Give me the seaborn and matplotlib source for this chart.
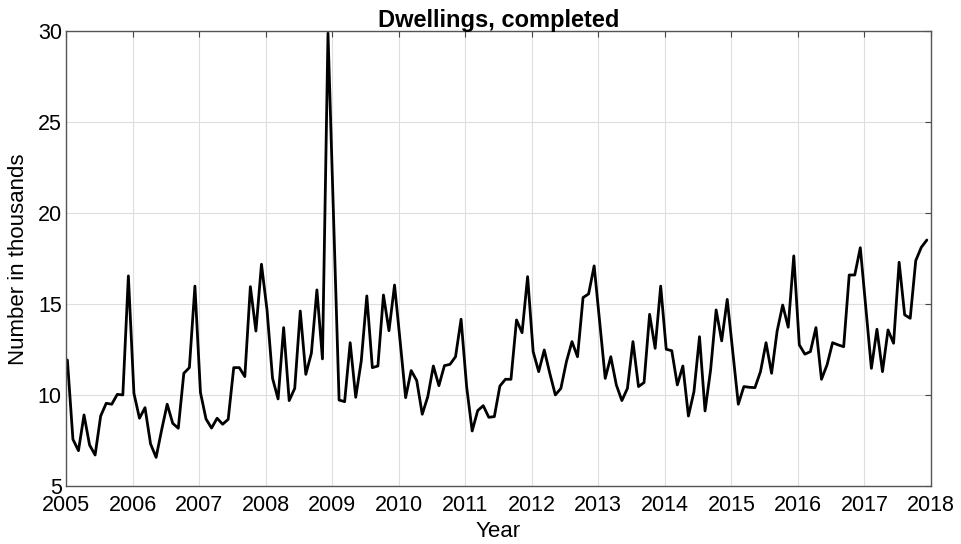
import numpy as np
import pandas as pd
import matplotlib
matplotlib.use("Agg")
import matplotlib.pyplot as plt
import seaborn as sns

# Monthly dwellings completed, in thousands (Jan..Dec for each year)
y2005 = [11.94, 7.58, 6.96, 8.92, 7.27, 6.72, 8.86, 9.56, 9.51, 10.05, 10.02, 16.56]
y2006 = [10.11, 8.74, 9.32, 7.33, 6.59, 8.10, 9.51, 8.46, 8.19, 11.21, 11.52, 16.00]
y2007 = [10.15, 8.70, 8.20, 8.74, 8.41, 8.68, 11.52, 11.52, 11.03, 15.97, 13.53, 17.20]
y2008 = [14.70, 10.93, 9.80, 13.72, 9.71, 10.38, 14.63, 11.15, 12.31, 15.79, 12.00, 29.90]
y2009 = [19.90, 9.74, 9.65, 12.89, 9.89, 11.89, 15.46, 11.52, 11.61, 15.51, 13.55, 16.06]
y2010 = [13.00, 9.87, 11.36, 10.81, 8.96, 9.93, 11.61, 10.53, 11.63, 11.70, 12.12, 14.18]
y2011 = [10.48, 8.04, 9.16, 9.43, 8.79, 8.83, 10.51, 10.88, 10.88, 14.14, 13.44, 16.52]
y2012 = [12.40, 11.30, 12.49, 11.21, 10.02, 10.38, 11.85, 12.95, 12.12, 15.37, 15.57, 17.11]
y2013 = [14.00, 10.93, 12.12, 10.57, 9.71, 10.38, 12.95, 10.48, 10.70, 14.45, 12.58, 16.00]
y2014 = [12.53, 12.45, 10.57, 11.61, 8.86, 10.20, 13.22, 9.14, 11.39, 14.69, 12.99, 15.27]
y2015 = [12.40, 9.51, 10.48, 10.44, 10.42, 11.30, 12.89, 11.21, 13.53, 14.96, 13.74, 17.66]
y2016 = [12.77, 12.26, 12.40, 13.72, 10.88, 11.67, 12.89, 12.77, 12.67, 16.61, 16.61, 18.11]
y2017 = [14.80, 11.48, 13.63, 11.30, 13.59, 12.86, 17.31, 14.42, 14.23, 17.40, 18.13, 18.53]

years = list(range(2005, 2018))
series = [y2005, y2006, y2007, y2008, y2009, y2010, y2011, y2012, y2013,
          y2014, y2015, y2016, y2017]

x_ticks = list(range(2005, 2019))
y_ticks = [5, 10, 15, 20, 25, 30]

rows = []
for yr, vals in zip(years, series):
    for m, v in enumerate(vals):
        rows.append({"t": yr + (m + 0.25) / 12.0, "value": v})
df = pd.DataFrame(rows)

sns.set_theme(style="white")
plt.rcParams["font.family"] = ["Liberation Sans", "DejaVu Sans"]
plt.rcParams["text.color"] = "black"
plt.rcParams["axes.labelcolor"] = "black"

fig = plt.figure(figsize=(9.61, 5.44), dpi=100)
ax = fig.add_axes([66 / 961, 1 - 486.3 / 544, 865 / 961, 455 / 544])

sns.lineplot(data=df, x="t", y="value", ax=ax, color="black", linewidth=2.0)

ax.set_xlim(2005, 2018)
ax.set_ylim(5, 30)
ax.set_xticks(x_ticks)
ax.set_yticks(y_ticks)
ax.set_xticklabels([str(v) for v in x_ticks], fontsize=15.5)
ax.set_yticklabels([str(v) for v in y_ticks], fontsize=15.5)
ax.grid(True, color="#dedede", linewidth=0.8)
ax.tick_params(axis="both", direction="in", length=4, width=0.8, color="#444444",
               top=True, right=True, labelcolor="black")
ax.tick_params(axis="x", pad=6)
ax.tick_params(axis="y", pad=3)
for s in ax.spines.values():
    s.set_color("#555555")
    s.set_linewidth(1.0)

ax.set_title("Dwellings, completed", fontsize=17, fontweight="bold",
             color="black", pad=3)
ax.set_xlabel("Year", fontsize=16, labelpad=4, color="black")
ax.set_ylabel("Number in thousands", fontsize=16, labelpad=6, color="black")

fig.savefig("out.png", dpi=100)
